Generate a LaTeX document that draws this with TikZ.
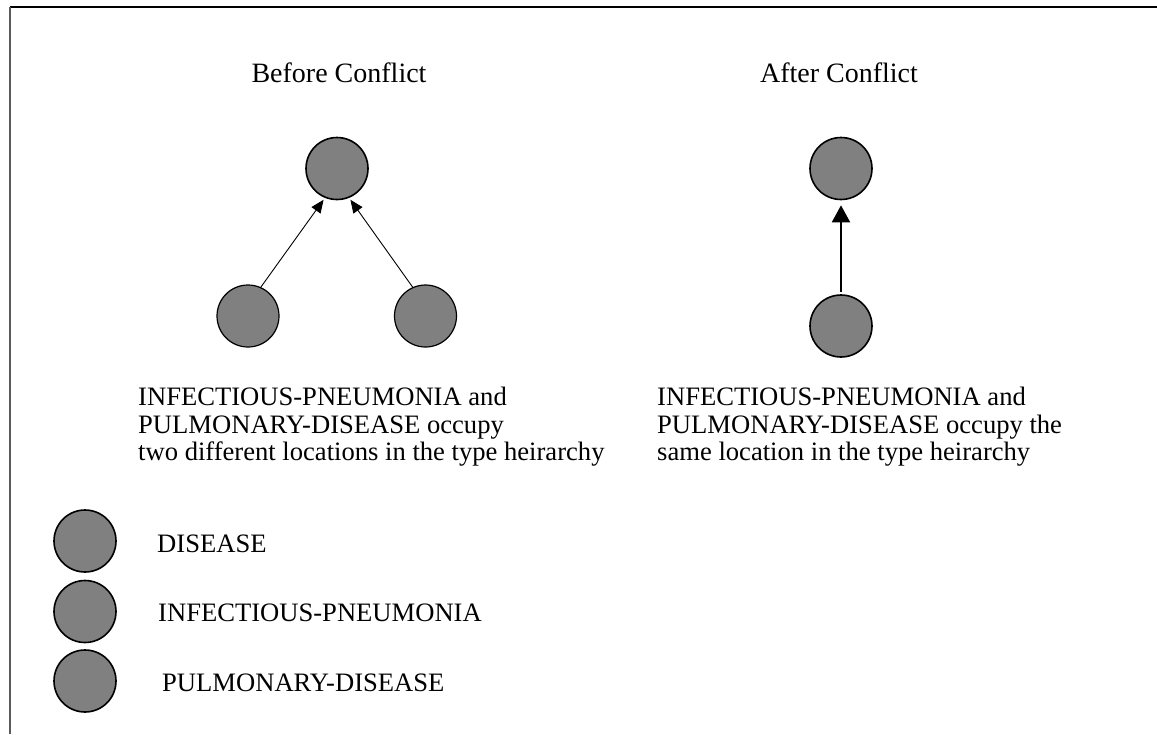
\documentclass[tikz,border=0pt]{standalone}
\usepackage{fontspec}
\setmainfont{Liberation Serif}
\usetikzlibrary{arrows.meta}
\definecolor{conceptgray}{HTML}{808080}
\definecolor{framegray}{HTML}{5A5A5A}
\begin{document}
\begin{tikzpicture}[x=1pt,y=-1pt,
  concept/.style={circle, draw=black, fill=conceptgray, minimum size=62pt,
                  inner sep=0pt, line width=1.6pt},
  thinconcept/.style={concept, line width=1.2pt},
  label/.style={inner sep=0pt, font=\fontsize{26.6}{28}\selectfont},
  heading/.style={inner sep=0pt, font=\fontsize{28}{30}\selectfont},
  isa/.style={-{Triangle[length=13pt,width=11pt]}, line width=0.9pt},
  isabold/.style={-{Triangle[length=17pt,width=18pt]}, line width=2pt}]
\useasboundingbox (0,0) rectangle (1157,734);

% frame
\draw[line width=2pt, black] (10,6.7) -- (1157,6.7);
\draw[line width=2pt, framegray] (10,6.7) -- (10,734);

% headings, centred over their trees
\node[heading, anchor=base] (hbefore) at (339,82) {Before Conflict};
\node[heading, anchor=base] (hafter) at (839,82) {After Conflict};

% before conflict: two separate children of DISEASE
\node[concept] (dis) at (337,168.5) {};
\node[thinconcept] (inf) at (248,316) {};
\node[thinconcept] (pul) at (425.5,316) {};
\draw[isa] (inf.66) -- ([shift={(-1,2)}]dis.247);
\draw[isa] (pul.114) -- ([shift={(1,2)}]dis.293);

% after conflict: merged child
\node[concept] (dis2) at (841,168.5) {};
\node[concept] (merged) at (841,326) {};
\draw[isabold, shorten <=2pt, shorten >=5pt] (merged.north) -- (dis2.south);

% explanations
\node[label, anchor=base west] (l1) at (138,405.7) {INFECTIOUS-PNEUMONIA and};
\node[label, anchor=base west] (l2) at (138,433) {PULMONARY-DISEASE occupy};
\node[label, anchor=base west] (l3) at (138,460.3) {two different locations in the type heirarchy};

\node[label, anchor=base west] (r1) at (657,405.7) {INFECTIOUS-PNEUMONIA and};
\node[label, anchor=base west] (r2) at (657,433) {PULMONARY-DISEASE occupy the};
\node[label, anchor=base west] (r3) at (657,460.3) {same location in the type heirarchy};

% legend
\node[concept] (k1) at (85,541) {};
\node[concept] (k2) at (85,611.5) {};
\node[concept] (k3) at (85,681) {};
\node[label, anchor=base west] (t1) at (157,552.3) {DISEASE};
\node[label, anchor=base west] (t2) at (158,621.7) {INFECTIOUS-PNEUMONIA};
\node[label, anchor=base west] (t3) at (162,691.7) {PULMONARY-DISEASE};
\end{tikzpicture}
\end{document}
